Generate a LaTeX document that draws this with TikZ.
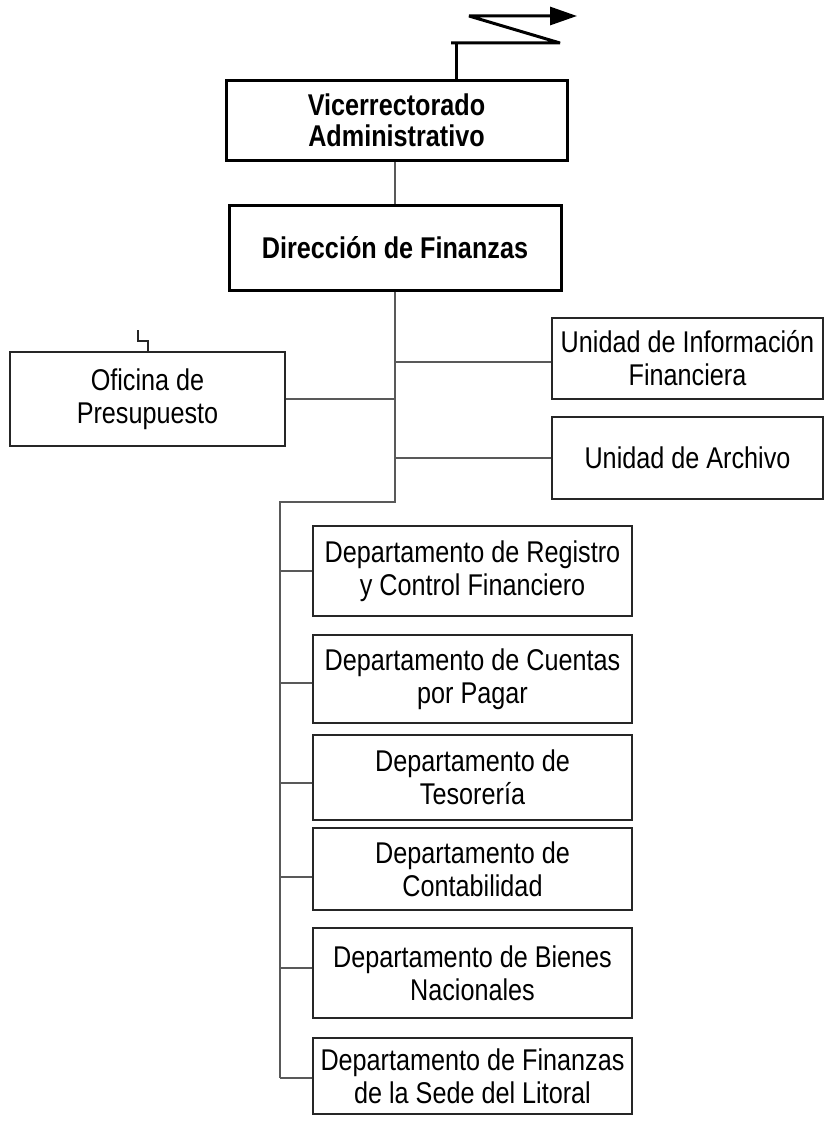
\documentclass[tikz,border=0pt]{standalone}
\usepackage{fontspec}
\setmainfont{Liberation Sans}[FakeStretch=0.84]
\usetikzlibrary{arrows.meta}
\begin{document}
\begin{tikzpicture}[x=1pt,y=-1pt,
    unit/.style={draw=black!85, line width=1.1pt, align=center, inner sep=0pt, font=\fontsize{30}{33}\selectfont},
    head/.style={draw=black, line width=3pt, align=center, inner sep=0pt, font=\bfseries\fontsize{30}{31}\selectfont},
    link/.style={draw=black!65, line width=1.2pt}]
\useasboundingbox (0,0) rectangle (825,1124);

\node[head, minimum width=341pt, minimum height=80pt] (vice) at (396.5,120) {Vicerrectorado\\Administrativo};
\node[head, minimum width=332pt, minimum height=85pt] (dir) at (395,247.5) {Dirección de Finanzas};

\node[unit, minimum width=275pt, minimum height=94pt] (ofi) at (147.5,399) {Oficina de\\Presupuesto};
\node[unit, minimum width=271pt, minimum height=81pt] (info) at (687.5,358.5) {Unidad de Información\\Financiera};
\node[unit, minimum width=271pt, minimum height=82pt] (arch) at (687.5,458) {Unidad de Archivo};

\node[unit, minimum width=319pt, minimum height=90pt] (reg) at (472.5,571) {Departamento de Registro\\y Control Financiero};
\node[unit, minimum width=319pt, minimum height=88pt] (cta) at (472.5,679) {Departamento de Cuentas\\por Pagar};
\node[unit, minimum width=319pt, minimum height=85pt] (tes) at (472.5,777.5) {Departamento de\\Tesorería};
\node[unit, minimum width=319pt, minimum height=82pt] (con) at (472.5,869) {Departamento de\\Contabilidad};
\node[unit, minimum width=319pt, minimum height=90pt] (bie) at (472.5,973) {Departamento de Bienes\\Nacionales};
\node[unit, minimum width=319pt, minimum height=76pt] (fin) at (472.5,1076) {Departamento de Finanzas\\de la Sede del Litoral};

\coordinate (bolt) at (456,43);
\coordinate (split) at (395,502);
\coordinate (bend) at (280,502);
\coordinate (foot) at (280,1078);
\coordinate (tick) at (138,330);
\coordinate (tickb) at (148,341);

\draw[line width=3pt, line join=bevel, -{Triangle[length=27pt,width=18pt]}] (451,43) -- (560,43) -- (469,16) -- (577,16);
\draw[line width=3pt] (bolt) -- (bolt |- vice.north);
\draw[draw=black!85, line width=1.1pt] (tick) |- (tickb) -- (tickb |- ofi.north);

\draw[link] (dir.north) -- (dir.north |- vice.south);
\draw[link] (dir.south) -- (split) -- (bend) -- (foot);
\draw[link] (ofi.east) -- (ofi.east -| split);
\draw[link] ([yshift=-3.5pt]info.west) -- ([yshift=-3.5pt]info.west -| split);
\draw[link] (arch.west) -- (arch.west -| split);

\draw[link] (reg.west) -- (reg.west -| bend);
\draw[link] ([yshift=-4pt]cta.west) -- ([yshift=-4pt]cta.west -| bend);
\draw[link] ([yshift=-5.5pt]tes.west) -- ([yshift=-5.5pt]tes.west -| bend);
\draw[link] ([yshift=-8pt]con.west) -- ([yshift=-8pt]con.west -| bend);
\draw[link] ([yshift=5pt]bie.west) -- ([yshift=5pt]bie.west -| bend);
\draw[link] ([yshift=-2pt]fin.west) -- ([yshift=-2pt]fin.west -| bend);
\end{tikzpicture}
\end{document}
